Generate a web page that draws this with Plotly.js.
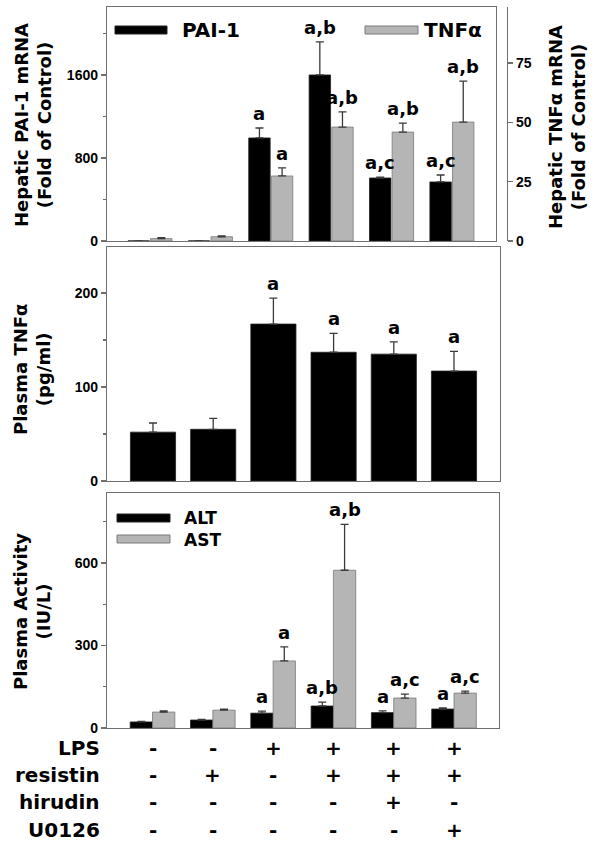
<!DOCTYPE html>
<html>
<head>
<meta charset="utf-8">
<script src="https://cdn.plot.ly/plotly-3.0.1.min.js"></script>
<style>html,body{margin:0;padding:0;background:#fff;}#chart{width:600px;height:845px;}</style>
</head>
<body>
<div id="chart"></div>
<script>
// ---------- data ----------
const categories = ['Control', 'Resistin', 'LPS', 'LPS+Resistin', 'LPS+Resistin+Hirudin', 'LPS+Resistin+U0126'];

// Panel A: hepatic mRNA (fold of control)
const pai1Mrna = [1, 1, 993, 1600, 607, 569];
const pai1MrnaErr = [0, 0, 96, 318, 8, 67];
const pai1Labels = ['', '', 'a', 'a,b', 'a,c', 'a,c'];
const tnfMrna = [1.0, 1.8, 27.4, 48.0, 45.9, 50.1];
const tnfMrnaErr = [0.4, 0.3, 3.4, 6.4, 3.8, 17.3];
const tnfMrnaLabels = ['', '', 'a', 'a,b', 'a,b', 'a,b'];

// Panel B: plasma TNFα (pg/ml)
const plasmaTnf = [52, 55, 167, 137, 135, 117];
const plasmaTnfErr = [9.7, 11.7, 27.7, 20, 13, 21];
const plasmaTnfLabels = ['', '', 'a', 'a', 'a', 'a'];

// Panel C: plasma activity (IU/L)
const alt = [22, 29, 54, 80, 56, 69];
const altErr = [2, 2, 7.5, 14, 6, 4];
const altLabels = ['', '', 'a', 'a,b', 'a', 'a'];
const ast = [58, 65, 244, 574, 109, 127];
const astErr = [4, 4, 51, 167, 14.5, 7.5];
const astLabels = ['', '', 'a', 'a,b', 'a,c', 'a,c'];

// Treatment table
const tableRows = ['LPS', 'resistin', 'hirudin', 'U0126'];
const lpsRow = ['-', '-', '+', '+', '+', '+'];
const resistinRow = ['-', '+', '-', '+', '+', '+'];
const hirudinRow = ['-', '-', '-', '-', '+', '-'];
const u0126Row = ['-', '-', '-', '-', '-', '+'];

// Tick labels
const paiTicks = [0, 800, 1600];
const tnfMrnaTicks = [0, 25, 50, 75];
const plasmaTnfTicks = [0, 100, 200];
const activityTicks = [0, 300, 600];

// ---------- helpers ----------
const W = 600, H = 845;
const px = x => x / W;
const py = y => 1 - y / H;
const idx = categories.map((_, i) => i);

const BLACK = '#000000';
const GREY = '#b5b5b5';
const GREY_LINE = '#7a7a7a';
const FRAME = '#6f6f6f';
const ERR = '#3a3a3a';
const TXT = 'DejaVu Sans';

function errBar(arr) {
  return {type: 'data', array: arr, arrayminus: arr.map(() => 0), symmetric: false,
          color: ERR, thickness: 1.3, width: 4, visible: true};
}

const traces = [
  {type: 'bar', x: idx, y: pai1Mrna, xaxis: 'x', yaxis: 'y', name: 'PAI-1',
   width: 0.355, offset: -0.365, marker: {color: BLACK, line: {color: '#222', width: 0.8}},
   error_y: errBar(pai1MrnaErr)},
  {type: 'bar', x: idx, y: tnfMrna, xaxis: 'x', yaxis: 'y2', name: 'TNFα',
   width: 0.355, offset: 0.01, marker: {color: GREY, line: {color: GREY_LINE, width: 0.8}},
   error_y: errBar(tnfMrnaErr)},
  {type: 'bar', x: idx, y: plasmaTnf, xaxis: 'x2', yaxis: 'y3', name: 'Plasma TNFα',
   width: 0.75, marker: {color: BLACK, line: {color: '#222', width: 0.8}},
   error_y: errBar(plasmaTnfErr)},
  {type: 'bar', x: idx, y: alt, xaxis: 'x3', yaxis: 'y4', name: 'ALT',
   width: 0.37, offset: -0.37, marker: {color: BLACK, line: {color: '#222', width: 0.8}},
   error_y: errBar(altErr)},
  {type: 'bar', x: idx, y: ast, xaxis: 'x3', yaxis: 'y4', name: 'AST',
   width: 0.37, offset: 0.0, marker: {color: GREY, line: {color: GREY_LINE, width: 0.8}},
   error_y: errBar(astErr)}
];

const tickFont = {family: 'Liberation Sans', size: 14, color: '#000', weight: 'bold'};

function xAxis(domain, range, anchor) {
  return {domain: domain, range: range, anchor: anchor, showticklabels: false, ticks: '',
          showgrid: false, zeroline: false, showline: true, linecolor: FRAME, linewidth: 1.2,
          mirror: true, fixedrange: true};
}
function yAxis(domain, range, anchor, ticks, minorVals) {
  return {domain: domain, range: range, anchor: anchor, tickvals: ticks, ticks: 'outside',
          ticklen: 5, tickcolor: FRAME, tickwidth: 1.2, tickfont: tickFont,
          minor: {tickvals: minorVals, ticks: 'outside', ticklen: 3, tickcolor: FRAME},
          showgrid: false, zeroline: false, showline: true, linecolor: FRAME, linewidth: 1.2,
          mirror: true, fixedrange: true};
}

const layout = {
  width: W, height: H,
  margin: {l: 0, r: 0, t: 0, b: 0},
  paper_bgcolor: '#fff', plot_bgcolor: '#fff',
  showlegend: false,
  font: {family: TXT, color: '#000', size: 18, weight: 'bold'},
  xaxis: xAxis([px(107), px(496)], [-0.712, 5.73], 'y'),
  yaxis: yAxis([py(241), py(7)], [0, 2255], 'x', paiTicks, [400, 1200, 2000]),
  yaxis2: {overlaying: 'y', side: 'right', anchor: 'free', position: px(507), range: [0, 98.6],
           tickvals: tnfMrnaTicks, ticks: 'outside', ticklen: 5, tickcolor: FRAME, tickwidth: 1.2,
           tickfont: tickFont, showgrid: false, zeroline: false, showline: true,
           linecolor: FRAME, linewidth: 1.2, fixedrange: true},
  xaxis2: xAxis([px(107), px(500)], [-0.764, 5.764], 'y3'),
  yaxis3: yAxis([py(481), py(247)], [0, 249], 'x2', plasmaTnfTicks, [50, 150]),
  xaxis3: xAxis([px(107), px(499)], [-0.755, 5.746], 'y4'),
  yaxis4: yAxis([py(728), py(493)], [0, 855], 'x3', activityTicks, [150, 450, 750]),
  annotations: [],
  shapes: []
};

const ann = layout.annotations;
const labelFont = {family: TXT, size: 18, color: '#000', weight: 'bold'};

function addLabels(labels, values, errs, xref, yref, shift) {
  labels.forEach((t, i) => {
    if (!t) return;
    ann.push({xref: xref, yref: yref, x: i + shift, y: values[i] + errs[i], text: t,
              showarrow: false, xanchor: 'center', yanchor: 'bottom', yshift: 2, font: labelFont});
  });
}
addLabels(pai1Labels, pai1Mrna, pai1MrnaErr, 'x', 'y', -0.1875);
addLabels(tnfMrnaLabels, tnfMrna, tnfMrnaErr, 'x', 'y2', 0.1875);
addLabels(plasmaTnfLabels, plasmaTnf, plasmaTnfErr, 'x2', 'y3', 0);
addLabels(altLabels, alt, altErr, 'x3', 'y4', -0.185);
addLabels(astLabels, ast, astErr, 'x3', 'y4', 0.185);

// Axis titles
function title(text, cx, cy) {
  ann.push({xref: 'paper', yref: 'paper', x: px(cx), y: py(cy), text: text, textangle: -90,
            showarrow: false, xanchor: 'center', yanchor: 'middle',
            font: {family: TXT, size: 18, color: '#000', weight: 'bold'}});
}
title('Hepatic PAI-1 mRNA<br>(Fold of Control)', 33, 125);
title('Hepatic TNFα mRNA<br>(Fold of Control)', 567, 127);
title('Plasma TNFα<br>(pg/ml)', 32, 370);
title('Plasma Activity<br>(IU/L)', 32, 612);

// Custom legends
const legendFont = {family: TXT, size: 20, color: '#000', weight: 'bold'};
function swatch(color, line, x0, x1, yc) {
  layout.shapes.push({type: 'rect', xref: 'paper', yref: 'paper',
    x0: px(x0), x1: px(x1), y0: py(yc + 4), y1: py(yc - 4),
    fillcolor: color, line: {color: line, width: 1}});
}
swatch(BLACK, '#222', 115, 167, 30);
ann.push({xref: 'paper', yref: 'paper', x: px(180), y: py(30), text: 'PAI-1', showarrow: false,
          xanchor: 'left', yanchor: 'middle', font: legendFont});
swatch(GREY, GREY_LINE, 365, 418, 30);
ann.push({xref: 'paper', yref: 'paper', x: px(422), y: py(30), text: 'TNFα', showarrow: false,
          xanchor: 'left', yanchor: 'middle', font: legendFont});
swatch(BLACK, '#222', 117, 170, 518);
swatch(GREY, GREY_LINE, 117, 170, 539);
ann.push({xref: 'paper', yref: 'paper', x: px(182), y: py(529), text: 'ALT<br>AST', showarrow: false,
          xanchor: 'left', yanchor: 'middle', align: 'left',
          font: {family: TXT, size: 17, color: '#000', weight: 'bold'}});

// Treatment table
const rowsData = [lpsRow, resistinRow, hirudinRow, u0126Row];
const rowY = [748, 775, 802, 830];
const tableFont = {family: TXT, size: 20, color: '#000', weight: 'bold'};
tableRows.forEach((name, r) => {
  ann.push({xref: 'paper', yref: 'paper', x: px(102), y: py(rowY[r]), text: name, showarrow: false,
            xanchor: 'right', yanchor: 'middle', font: tableFont});
  rowsData[r].forEach((s, i) => {
    ann.push({xref: 'x3', yref: 'paper', x: i, y: py(rowY[r]), text: s, showarrow: false,
              xanchor: 'center', yanchor: 'middle', font: tableFont});
  });
});

Plotly.newPlot('chart', traces, layout, {displayModeBar: false, staticPlot: true});
</script>
</body>
</html>
